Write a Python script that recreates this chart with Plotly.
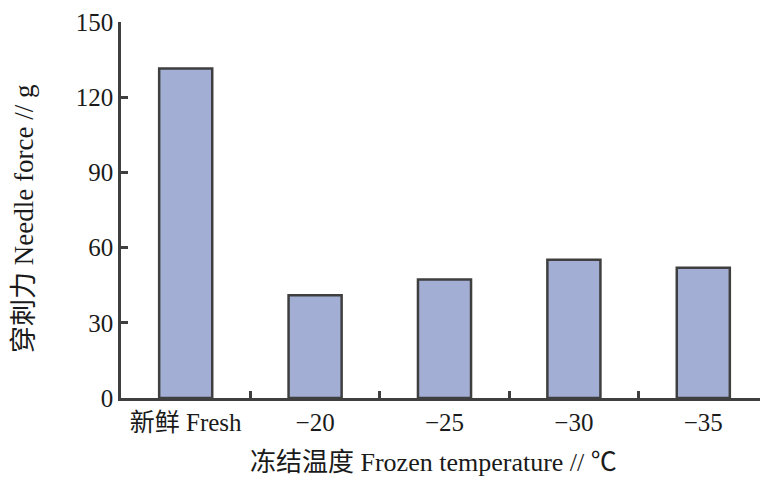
import plotly.graph_objects as go

categories = ["新鲜 Fresh", "−20", "−25", "−30", "−35"]
needle_force = [131.4, 41.0, 47.3, 55.2, 52.0]
y_ticks = [0, 30, 60, 90, 120, 150]

FONT = "Liberation Serif, Noto Sans CJK SC, serif"
LINE = "#3f3f3f"

# the page body adds an 8px offset; size the figure to fill the window
OFF = 8
W, H = 768 - OFF, 481 - OFF
# desired plot area in screen pixels
SL, ST, SB = 121, 22, 398
L, T = SL - OFF, ST - OFF
B = H - (SB - OFF)
R = 0
pw, ph = W - L - R, H - T - B

def px_x(x):
    return (x - SL) / pw

def px_y(y):
    return (SB - y) / ph

fig = go.Figure(go.Bar(
    x=categories, y=needle_force,
    marker=dict(color="#a3aed4", line=dict(color=LINE, width=2.5)),
    width=0.41,
))

fig.update_layout(
    width=W, height=H,
    margin=dict(l=L, r=R, t=T, b=B),
    paper_bgcolor="white", plot_bgcolor="white",
    font=dict(family=FONT, size=24, color="#1a1a1a"),
    showlegend=False,
    annotations=[
        dict(text="冻结温度 Frozen temperature // ℃", xref="paper", yref="paper",
             x=px_x(433), y=px_y(462), xanchor="center", yanchor="middle",
             showarrow=False, font=dict(size=26)),
        dict(text="穿刺力 Needle force // g", xref="paper", yref="paper",
             x=px_x(24), y=px_y(219), xanchor="center", yanchor="middle",
             textangle=-90, showarrow=False, font=dict(size=27)),
    ],
)
fig.update_xaxes(
    type="category", tickson="boundaries", ticks="inside", ticklen=7, tickwidth=2.5,
    tickcolor=LINE, showline=True, linecolor=LINE, linewidth=2.5, showgrid=False,
    range=[-0.5, 4.5], automargin=False,
    tickfont=dict(size=25),
)
fig.update_yaxes(
    range=[0, 150], tickvals=y_ticks, ticks="inside", ticklen=7, tickwidth=2.5,
    tickcolor=LINE, showline=True, linecolor=LINE, linewidth=2.5, showgrid=False,
    zeroline=False, automargin=False,
    tickfont=dict(size=25),
)

fig.write_html("out.html")
